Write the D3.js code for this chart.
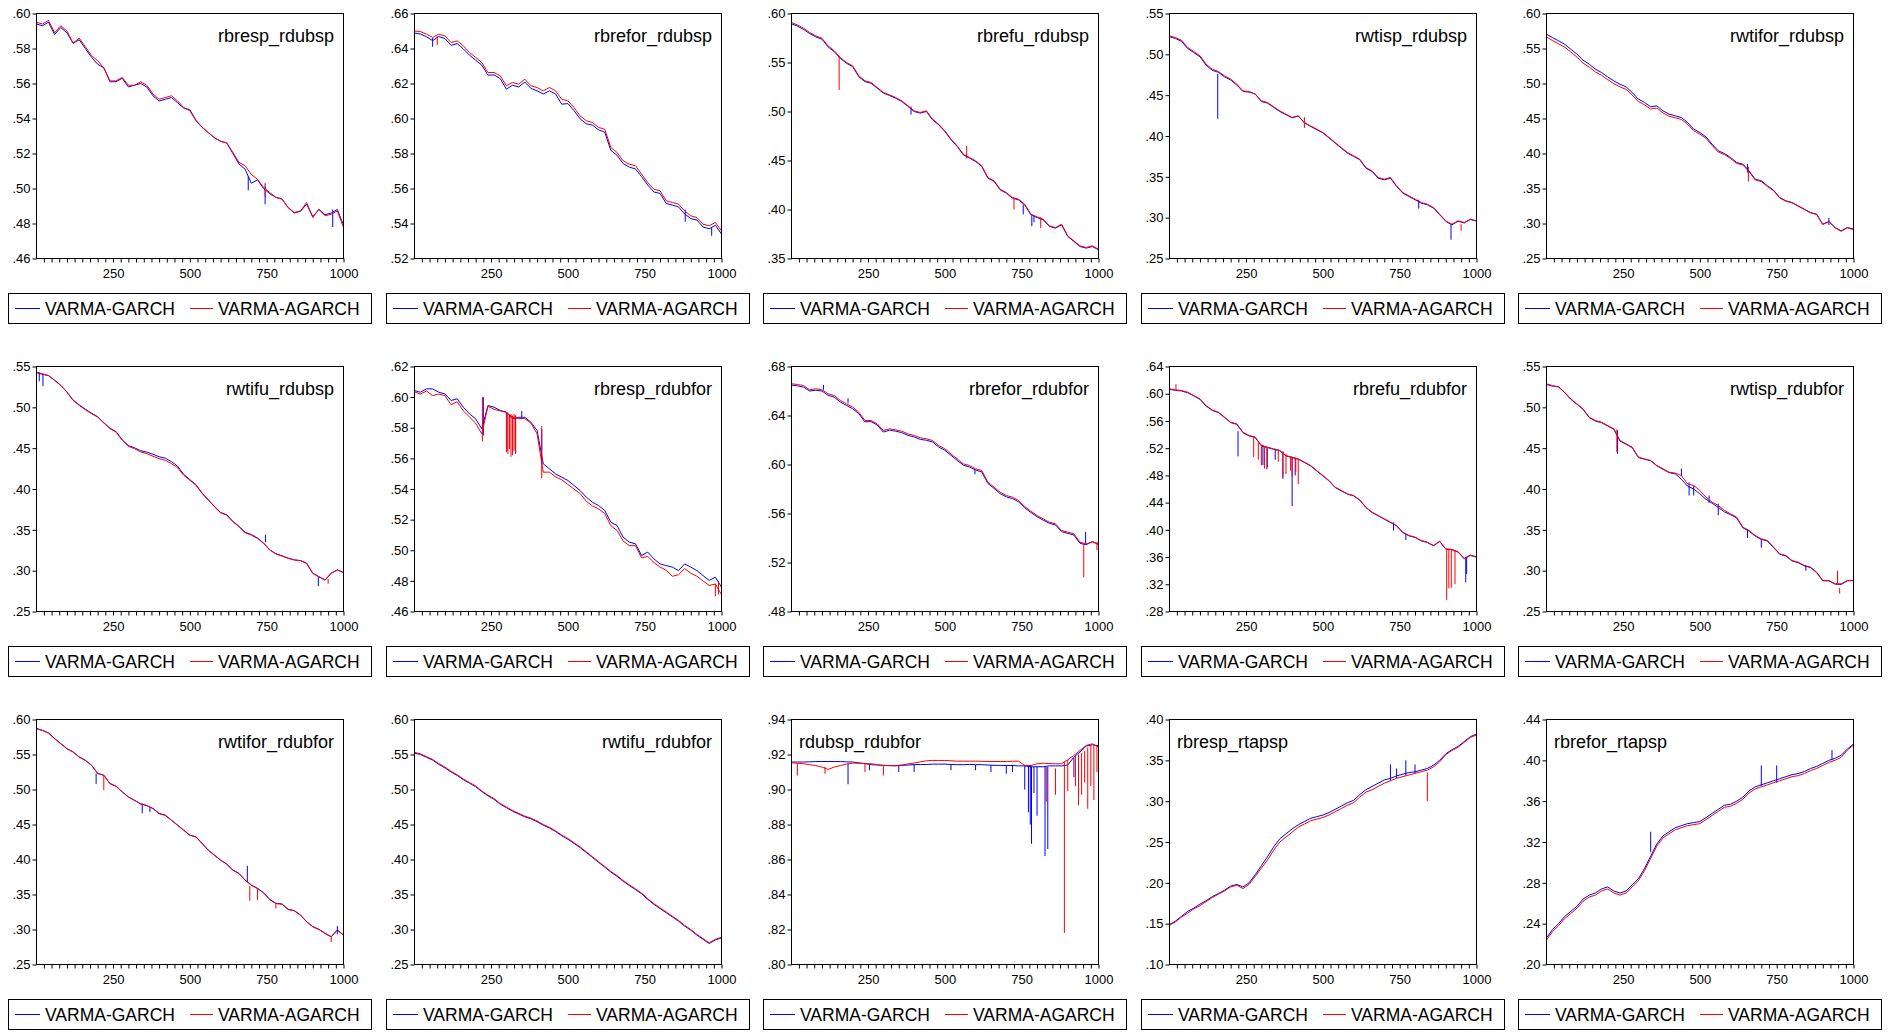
<!DOCTYPE html>
<html>
<head>
<meta charset="utf-8">
<script src="https://cdn.jsdelivr.net/npm/d3@7"></script>
<style>
  body { margin: 0; background: #fff; }
  text { font-family: "Liberation Sans", Arial, sans-serif; fill: #000; }
</style>
</head>
<body>
<svg id="chart" width="1888" height="1032"></svg>
<script>
// observation index used for every series (values read every 20 obs)
const xIndex = [1,20,40,60,80,100,120,140,160,180,200,220,240,260,280,300,320,340,360,380,400,420,440,460,480,500,520,540,560,580,600,620,640,660,680,700,720,740,760,780,800,820,840,860,880,900,920,940,960,980,1000];
const xLabels = [250, 500, 750, 1000];
const seriesNames = ["VARMA-GARCH", "VARMA-AGARCH"];
const titles = ["rbresp_rdubsp","rbrefor_rdubsp","rbrefu_rdubsp","rwtisp_rdubsp","rwtifor_rdubsp",
  "rwtifu_rdubsp","rbresp_rdubfor","rbrefor_rdubfor","rbrefu_rdubfor","rwtisp_rdubfor",
  "rwtifor_rdubfor","rwtifu_rdubfor","rdubsp_rdubfor","rbresp_rtapsp","rbrefor_rtapsp"];
const titlesOnLeft = ["rdubsp_rdubfor","rbresp_rtapsp","rbrefor_rtapsp"];
// [min, max, step] of each y axis
const yRanges = [[.46,.60,.02],[.52,.66,.02],[.35,.60,.05],[.25,.55,.05],[.25,.60,.05],
  [.25,.55,.05],[.46,.62,.02],[.48,.68,.04],[.28,.64,.04],[.25,.55,.05],
  [.25,.60,.05],[.25,.60,.05],[.80,.94,.02],[.10,.40,.05],[.20,.44,.04]];

// g_ = VARMA-GARCH, a_ = VARMA-AGARCH
const g_rbresp_rdubsp = [.594,.593,.595,.588,.592,.589,.583,.585,.580,.575,.571,.569,.561,.561,.563,.558,.559,.560,.558,.553,.550,.551,.552,.549,.546,.545,.539,.535,.532,.529,.527,.526,.520,.514,.511,.503,.505,.500,.497,.495,.494,.489,.486,.487,.491,.484,.488,.485,.486,.488,.479];
const a_rbresp_rdubsp = [.5950,.5940,.5960,.5890,.5930,.5900,.5830,.5860,.5810,.5760,.5730,.5690,.5615,.5615,.5635,.5590,.5590,.5610,.5590,.5540,.5510,.5520,.5530,.5500,.5463,.5444,.5387,.5349,.5320,.5290,.5270,.5260,.5206,.5149,.5130,.5080,.5053,.5006,.4977,.4949,.4940,.4891,.4863,.4872,.4920,.4834,.4882,.4844,.4853,.4872,.4777];
const g_rbrefor_rdubsp = [.6488,.6483,.6467,.6445,.6468,.6457,.6418,.6428,.6398,.6362,.6333,.6305,.6248,.6249,.6228,.6168,.619,.618,.6208,.6172,.6158,.614,.6158,.614,.6082,.6085,.6045,.5998,.597,.5962,.5935,.5922,.5818,.579,.5742,.5722,.5712,.5668,.562,.558,.5572,.5515,.5505,.5495,.5455,.5428,.542,.538,.537,.539,.534];
const a_rbrefor_rdubsp = [.650,.6497,.6482,.6463,.6482,.6472,.6434,.6444,.6415,.6377,.6349,.632,.6263,.6263,.6244,.6187,.6206,.6196,.6225,.6187,.6177,.6158,.6177,.6158,.611,.6101,.6063,.6015,.5987,.5977,.5949,.5939,.5834,.5806,.5758,.5739,.573,.5682,.5634,.5596,.5587,.553,.552,.5511,.5472,.5444,.5434,.5396,.5387,.5406,.5358];
const g_rbrefu_rdubsp = [.5895,.5872,.5838,.5795,.5762,.5738,.566,.561,.5542,.5492,.5458,.5355,.5305,.5288,.5238,.5188,.5163,.5136,.5102,.5052,.5,.4984,.5,.4915,.4864,.4796,.4712,.4644,.4558,.4525,.449,.444,.432,.4287,.42,.4167,.4115,.4098,.4046,.3946,.3918,.3895,.3827,.381,.3843,.3725,.3674,.3622,.3606,.3622,.3589];
const a_rbrefu_rdubsp = [.5908,.5884,.585,.5806,.5772,.5748,.567,.5619,.5551,.55,.5466,.5364,.5313,.5296,.5245,.5194,.517,.5143,.5109,.5058,.5007,.499,.5007,.4922,.4871,.4803,.4718,.465,.4565,.4531,.4497,.4446,.4327,.4293,.4207,.4173,.4122,.4105,.4054,.3952,.3925,.3901,.3833,.3816,.385,.3731,.368,.3629,.3612,.3629,.3595];
const g_rwtisp_rdubsp = [.5215,.5195,.516,.5072,.5022,.497,.4868,.4805,.478,.4725,.4686,.4625,.4545,.4538,.4515,.4422,.4402,.435,.43,.4262,.4222,.4245,.416,.4118,.4078,.4038,.3976,.3914,.3852,.379,.375,.371,.3606,.3566,.3484,.3463,.3484,.3383,.3302,.326,.322,.3178,.3158,.3118,.3036,.2955,.2912,.2956,.2935,.2978,.2958];
const a_rwtisp_rdubsp = [.5227,.5206,.5173,.5084,.5035,.4982,.488,.4818,.479,.4737,.4696,.4635,.4553,.4545,.4512,.4431,.441,.4357,.4308,.4267,.4227,.4247,.4165,.4124,.4084,.4043,.3982,.392,.3859,.3798,.3757,.3716,.3614,.3573,.3492,.3471,.3492,.339,.3308,.3267,.3227,.3186,.3165,.3124,.3043,.2961,.292,.2961,.2941,.2982,.2961];
const g_rwtifor_rdubsp = [.5705,.5657,.561,.5562,.549,.5419,.5333,.5276,.5205,.5157,.5095,.5038,.499,.4952,.4871,.4776,.4729,.4667,.4681,.461,.4562,.4538,.4514,.4443,.4348,.43,.4238,.4133,.4038,.4,.3943,.3871,.3848,.3752,.3633,.361,.3538,.3476,.3371,.3324,.33,.3252,.3205,.3157,.3133,.299,.3029,.2943,.2895,.2943,.2919];
const a_rwtifor_rdubsp = [.5665,.5615,.5568,.552,.545,.5378,.529,.5235,.5165,.5118,.5055,.4998,.4952,.4915,.4835,.4742,.4695,.4635,.465,.458,.4532,.451,.4488,.4418,.4325,.4278,.4218,.4115,.402,.3985,.3928,.3858,.3835,.374,.3622,.36,.3528,.3468,.3364,.3318,.3295,.3247,.32,.3152,.3128,.2985,.3025,.2938,.2888,.2938,.2912];
const g_rwtifu_rdubsp = [.5425,.5405,.5388,.5332,.527,.5188,.509,.503,.4978,.4928,.4885,.4812,.4745,.4702,.4602,.4532,.4505,.4468,.4452,.4425,.4395,.4378,.4335,.428,.418,.4115,.4052,.395,.3868,.3788,.3712,.3685,.3604,.3542,.347,.3442,.34,.3338,.3256,.3208,.3182,.3154,.3132,.3124,.3092,.2968,.2925,.2884,.297,.301,.2978];
const a_rwtifu_rdubsp = [.5431,.541,.539,.5329,.5268,.5186,.5085,.5024,.4971,.4922,.4881,.4808,.4739,.4698,.4596,.4523,.4494,.4454,.4433,.4401,.4372,.4352,.4311,.4262,.4169,.4107,.4046,.3945,.3863,.3782,.3708,.368,.3599,.3537,.3464,.3436,.3395,.3334,.3252,.3204,.3179,.3151,.313,.3122,.309,.2967,.2927,.2886,.2967,.3008,.2976];
const g_rbresp_rdubfor = [.6043,.6032,.6054,.6054,.6032,.6021,.5978,.5989,.5934,.5891,.5858,.5793,.5945,.5934,.5913,.5902,.5858,.5868,.5868,.5836,.5782,.5564,.5532,.5499,.5477,.5456,.5423,.539,.5347,.5314,.5292,.526,.5183,.5162,.5085,.5053,.5042,.4966,.4988,.4944,.4911,.49,.489,.4867,.4911,.489,.4867,.4835,.4803,.4824,.4759];
const a_rbresp_rdubfor = [.6035,.602,.604,.601,.602,.601,.595,.597,.591,.587,.583,.576,.594,.592,.591,.590,.587,.586,.586,.583,.576,.551,.551,.548,.546,.543,.540,.537,.532,.529,.527,.524,.516,.513,.506,.503,.503,.495,.496,.492,.489,.487,.483,.484,.488,.485,.483,.480,.477,.478,.471];
const g_rbrefor_rdubfor = [.6648,.6642,.6632,.66,.6606,.66,.6565,.655,.651,.6482,.6455,.6415,.6348,.635,.6322,.6265,.628,.6272,.626,.6238,.6225,.6205,.6198,.6184,.6142,.6116,.6075,.6034,.5995,.598,.5955,.594,.5845,.5805,.5762,.5736,.5722,.5695,.5646,.5608,.5574,.5546,.552,.5506,.5452,.5438,.5424,.5356,.5345,.5372,.5345];
const a_rbrefor_rdubfor = [.6659,.6653,.6645,.661,.6618,.661,.6577,.6563,.6522,.6495,.6468,.6427,.6359,.6359,.6332,.6278,.6291,.6283,.6272,.625,.6237,.6218,.621,.6196,.6155,.6128,.6087,.6046,.6005,.5992,.5965,.5951,.5856,.5815,.5774,.5747,.5733,.5706,.5657,.5619,.5584,.5556,.5529,.5516,.5461,.5448,.5434,.5366,.5352,.5366,.5352];
const g_rbrefu_rdubfor = [.6065,.605,.604,.6015,.5968,.5918,.582,.5756,.5722,.565,.5576,.555,.5428,.538,.5356,.5232,.5208,.5184,.516,.5086,.5062,.5038,.499,.494,.4866,.4793,.4719,.4622,.4572,.4524,.45,.4436,.4328,.4255,.4206,.4156,.4108,.4058,.396,.3912,.3888,.3838,.3814,.3765,.3828,.3716,.3712,.3678,.358,.3628,.3604];
const a_rbrefu_rdubfor = [.6072,.6057,.6047,.6023,.5974,.5925,.5827,.5763,.5729,.5656,.5582,.5558,.5435,.5386,.5362,.5239,.5215,.519,.5166,.5092,.5068,.5043,.4995,.4946,.4872,.4799,.4725,.4627,.4578,.4529,.4505,.4441,.4333,.426,.4211,.4162,.4113,.4064,.3966,.3917,.3893,.3844,.3819,.377,.3834,.3721,.3707,.3672,.3574,.3623,.3599];
const g_rwtisp_rdubfor = [.528,.526,.5255,.518,.5098,.5038,.4975,.4875,.4832,.4812,.4772,.473,.4588,.4548,.4506,.4385,.4365,.4345,.4284,.4242,.42,.4185,.412,.4035,.4,.394,.3875,.3825,.3775,.372,.3685,.3645,.3525,.3485,.3424,.3383,.3362,.3282,.32,.318,.3118,.3098,.3058,.3038,.2976,.2876,.2875,.2835,.2832,.2876,.2878];
const a_rwtisp_rdubfor = [.5288,.5267,.5247,.5186,.5104,.5043,.4982,.488,.4839,.4818,.4778,.4737,.4594,.4553,.4512,.439,.4369,.4349,.4288,.4247,.4206,.4194,.4165,.4063,.4043,.3982,.39,.3839,.3798,.3737,.3696,.3655,.3533,.3492,.3431,.339,.3369,.3288,.3206,.3186,.3124,.3104,.3063,.3043,.2982,.288,.288,.2839,.2839,.288,.288];
const g_rwtifor_rdubfor = [.5872,.5846,.5808,.5728,.5656,.5585,.5538,.5466,.5418,.5348,.5228,.5205,.5086,.5048,.4968,.4895,.4846,.4792,.4768,.473,.4658,.4634,.4563,.4492,.442,.4348,.4325,.423,.4135,.4064,.3992,.3936,.385,.3802,.3706,.3636,.3588,.3526,.343,.3374,.3365,.3289,.3269,.3208,.3112,.3042,.3003,.2946,.2898,.2994,.2922];
const a_rwtifor_rdubfor = [.5867,.5843,.5805,.5724,.5653,.5582,.5534,.5463,.5415,.5344,.5234,.5201,.5082,.5044,.4963,.4892,.4844,.4797,.4773,.4726,.4654,.463,.4559,.4488,.4417,.4345,.4321,.4226,.4131,.406,.3989,.3932,.3846,.3798,.3703,.3632,.3584,.3523,.3427,.337,.3361,.3285,.3266,.3204,.3109,.3038,.3,.2942,.2895,.299,.2919];
const g_rwtifu_rdubfor = [.552,.550,.546,.542,.536,.531,.525,.520,.514,.509,.504,.497,.491,.486,.479,.474,.469,.465,.461,.458,.454,.449,.445,.440,.434,.429,.423,.417,.410,.403,.396,.389,.382,.376,.369,.363,.357,.351,.343,.336,.330,.324,.318,.312,.305,.299,.292,.286,.280,.285,.288];
const a_rwtifu_rdubfor = [.553,.551,.547,.543,.537,.532,.526,.521,.515,.510,.505,.498,.492,.487,.480,.475,.470,.466,.462,.459,.455,.450,.446,.441,.435,.430,.424,.418,.411,.404,.397,.390,.383,.377,.370,.364,.358,.352,.344,.337,.331,.325,.319,.313,.306,.300,.293,.287,.281,.286,.289];
const g_rdubsp_rdubfor = [.9157,.9157,.9157,.9158,.9160,.9160,.9160,.9160,.9160,.9158,.9157,.9152,.9148,.9142,.9140,.9138,.9136,.9135,.9138,.9140,.9142,.9143,.9143,.9145,.9145,.9145,.9143,.9142,.9142,.9143,.9142,.9142,.914,.9138,.9138,.9137,.9137,.9135,.9135,.913,.913,.913,.9135,.9135,.9135,.9140,.9185,.9215,.9248,.9255,.925];
const a_rdubsp_rdubfor = [.9153,.9150,.9147,.9142,.9137,.9128,.9115,.9128,.9137,.9145,.9151,.9150,.9148,.9147,.9142,.9137,.9137,.9137,.9140,.9146,.9151,.9158,.9164,.9166,.9166,.9166,.9164,.9162,.9162,.9162,.9162,.9161,.916,.916,.916,.916,.9161,.9162,.9137,.9137,.9147,.915,.9148,.9147,.9147,.917,.9195,.9223,.9252,.9261,.9242];
const g_rbresp_rtapsp = [.149,.153,.159,.165,.169,.174,.178,.183,.187,.191,.196,.198,.195,.200,.210,.221,.232,.244,.254,.260,.266,.271,.275,.279,.281,.283,.286,.290,.294,.298,.301,.308,.314,.318,.322,.326,.328,.331,.333,.335,.336,.338,.340,.344,.350,.358,.363,.367,.373,.379,.382];
const a_rbresp_rtapsp = [.148,.152,.158,.163,.168,.172,.177,.182,.186,.190,.195,.197,.193,.198,.208,.218,.228,.240,.250,.256,.262,.268,.272,.276,.278,.280,.283,.287,.291,.295,.298,.305,.311,.314,.318,.322,.325,.328,.330,.332,.334,.336,.338,.342,.348,.357,.362,.366,.372,.378,.381];
const g_rbrefor_rtapsp = [.226,.234,.240,.247,.252,.257,.264,.268,.270,.274,.276,.272,.270,.272,.278,.284,.294,.306,.318,.326,.330,.334,.336,.338,.339,.340,.344,.348,.352,.356,.357,.360,.364,.370,.374,.376,.378,.380,.382,.384,.386,.387,.389,.392,.394,.397,.400,.402,.405,.411,.416];
const a_rbrefor_rtapsp = [.224,.232,.238,.245,.250,.255,.262,.266,.268,.272,.274,.270,.268,.270,.276,.282,.292,.304,.316,.324,.328,.332,.334,.336,.337,.338,.342,.346,.350,.354,.355,.358,.362,.368,.372,.374,.376,.378,.380,.382,.384,.385,.387,.390,.392,.395,.398,.400,.403,.410,.415];

// single-observation spikes: [obs, from, to]
const gSpikes = [
  [[690,.507,.499],[745,.503,.491],[965,.488,.478]],
  [[60,.646,.641],[882,.548,.541],[968,.538,.533]],
  [[390,.505,.497],[755,.405,.395],[783,.394,.383],[790,.393,.387]],
  [[158,.476,.421],[812,.322,.311],[917,.292,.273]],
  [[655,.373,.385],[920,.298,.308]],
  [[10,.543,.532],[22,.541,.526],[746,.344,.335],[918,.293,.281]],
  [[225,.575,.600],[302,.590,.565],[330,.588,.563],[350,.587,.591],[415,.579,.556]],
  [[105,.661,.665],[185,.650,.654],[598,.596,.592],[958,.535,.545]],
  [[224,.545,.508],[305,.525,.495],[318,.520,.489],[345,.519,.503],[370,.515,.475],[400,.507,.435],[410,.506,.480],[730,.411,.399],[770,.394,.385],[965,.360,.323],[968,.360,.335]],
  [[232,.472,.443],[440,.416,.425],[465,.408,.392],[480,.404,.392],[530,.392,.383],[560,.382,.368],[655,.351,.340],[700,.339,.328],[845,.307,.300]],
  [[195,.523,.508],[345,.480,.466],[370,.475,.468],[687,.368,.391],[980,.293,.305]],
  [],
  [[185,.915,.903],[255,.914,.911],[350,.914,.910],[400,.914,.910],[520,.914,.911],[600,.914,.911],[650,.914,.910],[700,.914,.909],[720,.914,.910],[760,.914,.900],[772,.914,.887],[778,.914,.880],[782,.913,.869],[790,.913,.898],[800,.913,.885],[826,.913,.862],[835,.913,.866],[920,.918,.907]],
  [[720,.325,.345],[740,.328,.340],[770,.331,.350],[800,.334,.345]],
  [[340,.310,.330],[700,.375,.395],[750,.378,.395],[930,.400,.410]]
];
const aSpikes = [
  [[745,.501,.495]],
  [[75,.647,.642]],
  [[156,.556,.522],[571,.452,.465],[725,.412,.400],[812,.392,.381]],
  [[440,.423,.410],[950,.292,.284]],
  [[658,.381,.360]],
  [[950,.290,.284]],
  [[222,.571,.600],[300,.590,.564],[305,.589,.563],[310,.588,.566],[315,.589,.561],[320,.588,.562],[325,.589,.565],[330,.588,.564],[415,.581,.547],[980,.478,.470],[990,.480,.471]],
  [[952,.535,.508],[995,.537,.530]],
  [[22,.606,.614],[275,.536,.507],[290,.528,.503],[300,.525,.495],[310,.523,.490],[320,.520,.492],[355,.518,.500],[370,.515,.478],[380,.512,.482],[395,.508,.487],[400,.507,.478],[412,.505,.485],[420,.504,.467],[903,.372,.297],[910,.372,.314],[918,.371,.315],[930,.370,.320]],
  [[230,.473,.445],[948,.283,.300],[955,.279,.272]],
  [[220,.520,.499],[695,.362,.341],[720,.358,.342],[780,.337,.330],[960,.290,.282]],
  [],
  [[20,.915,.908],[110,.913,.909],[240,.915,.910],[300,.914,.908],[830,.913,.893],[860,.912,.897],[889,.916,.818],[900,.917,.899],[925,.919,.902],[935,.920,.891],[945,.921,.897],[955,.922,.904],[965,.924,.889],[975,.925,.902],[985,.926,.894],[995,.925,.910]],
  [[840,.335,.300]],
  []
];

const garch = [g_rbresp_rdubsp,g_rbrefor_rdubsp,g_rbrefu_rdubsp,g_rwtisp_rdubsp,g_rwtifor_rdubsp,
  g_rwtifu_rdubsp,g_rbresp_rdubfor,g_rbrefor_rdubfor,g_rbrefu_rdubfor,g_rwtisp_rdubfor,
  g_rwtifor_rdubfor,g_rwtifu_rdubfor,g_rdubsp_rdubfor,g_rbresp_rtapsp,g_rbrefor_rtapsp];
const agarch = [a_rbresp_rdubsp,a_rbrefor_rdubsp,a_rbrefu_rdubsp,a_rwtisp_rdubsp,a_rwtifor_rdubsp,
  a_rwtifu_rdubsp,a_rbresp_rdubfor,a_rbrefor_rdubfor,a_rbrefu_rdubfor,a_rwtisp_rdubfor,
  a_rwtifor_rdubfor,a_rwtifu_rdubfor,a_rdubsp_rdubfor,a_rbresp_rtapsp,a_rbrefor_rtapsp];

const colors = ["#0000ff", "#ff0000"];
const colW = 377.6, rowH = 353;
const fmt = d => d3.format(".2f")(d).replace(/^0/, "");

const svg = d3.select("#chart");

titles.forEach((title, i) => {
  const col = i % 5, row = Math.floor(i / 5);
  const g = svg.append("g").attr("transform", `translate(${Math.round(col * colW)},${row * rowH})`);
  const [yMin, yMax, yStep] = yRanges[i];

  const x = d3.scaleLinear().domain([1, 1000]).range([36.5, 343.5]);
  const y = d3.scaleLinear().domain([yMin, yMax]).range([258.5, 13.5]);

  const yTicks = d3.range(Math.round((yMax - yMin) / yStep) + 1).map(k => yMin + k * yStep);
  const yAxis = g.append("g").attr("transform", "translate(36.5,0)")
    .call(d3.axisLeft(y).tickValues(yTicks).tickSize(4).tickPadding(2).tickFormat(fmt));
  const xAxis = g.append("g").attr("transform", "translate(0,258.5)")
    .call(d3.axisBottom(x).tickValues(d3.range(25, 1001, 25)).tickSize(4).tickPadding(6)
      .tickFormat(d => xLabels.includes(d) ? d : ""));
  [yAxis, xAxis].forEach(a => {
    a.select(".domain").remove();
    a.selectAll("text").attr("font-size", 13).attr("font-family", null);
    a.selectAll("line").attr("stroke", "#000");
  });

  const line = d3.line().x((d, k) => x(xIndex[k])).y(d => y(d));
  [[garch[i], gSpikes[i]], [agarch[i], aSpikes[i]]].forEach(([vals, spikes], s) => {
    g.append("path").datum(vals).attr("d", line)
      .attr("fill", "none").attr("stroke", colors[s]).attr("stroke-width", 1);
    g.selectAll(null).data(spikes).enter().append("line")
      .attr("x1", d => x(d[0])).attr("x2", d => x(d[0]))
      .attr("y1", d => y(d[1])).attr("y2", d => y(d[2]))
      .attr("stroke", colors[s]).attr("stroke-width", 1);
  });

  g.append("rect").attr("x", 36.5).attr("y", 13.5).attr("width", 307).attr("height", 245)
    .attr("fill", "none").attr("stroke", "#000");

  const left = titlesOnLeft.includes(title);
  g.append("text").attr("x", left ? 44 : 334).attr("y", 41.5)
    .attr("text-anchor", left ? "start" : "end").attr("font-size", 18).text(title);

  // legend
  const lg = g.append("g").attr("transform", "translate(8.5,293.5)");
  lg.append("rect").attr("width", 363).attr("height", 30).attr("fill", "#fff").attr("stroke", "#000");
  [[6.5, 31.5, 36.5], [181.5, 204.5, 209.5]].forEach(([x1, x2, tx], s) => {
    lg.append("line").attr("x1", x1).attr("x2", x2).attr("y1", 15).attr("y2", 15)
      .attr("stroke", colors[s]).attr("stroke-width", 1);
    lg.append("text").attr("x", tx).attr("y", 21.5).attr("font-size", 17.5).text(seriesNames[s]);
  });
});
</script>
</body>
</html>
